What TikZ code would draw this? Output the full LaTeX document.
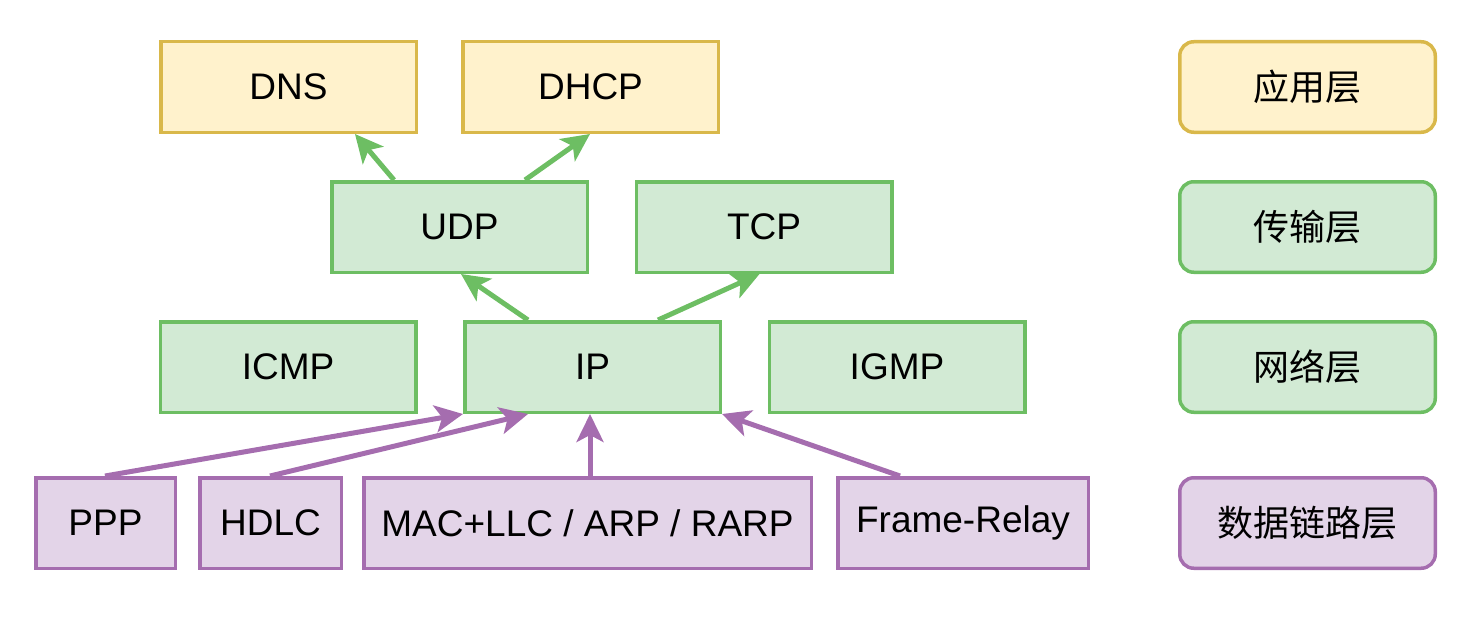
\documentclass[tikz,border=0pt]{standalone}
\usepackage{fontspec}
\setmainfont{Liberation Sans}
\newfontfamily\cjk{Noto Sans CJK SC}
\usetikzlibrary{arrows.meta,calc}
\definecolor{ylwF}{HTML}{FFF2CC}
\definecolor{ylwD}{HTML}{D9B84A}
\definecolor{grnF}{HTML}{D2EAD4}
\definecolor{grnD}{HTML}{6DBE63}
\definecolor{purF}{HTML}{E3D4E8}
\definecolor{purD}{HTML}{A56DAF}
\tikzset{
  x=1pt,y=1pt,
  box/.style={draw, line width=3.5pt, inner sep=0pt, minimum height=90.5pt, minimum width=255.5pt,
    font=\fontsize{37}{44}\selectfont},
  ylw/.style={box, fill=ylwF, draw=ylwD},
  grn/.style={box, fill=grnF, draw=grnD},
  pur/.style={box, fill=purF, draw=purD},
  lay/.style={rounded corners=14pt, font=\cjk\fontsize{36}{44}\selectfont},
  tipA/.style={-{Stealth[length=28pt,width=27pt,inset=7pt]}, line width=5pt},
  garr/.style={tipA, draw=grnD},
  parr/.style={tipA, draw=purD},
}
\begin{document}
\begin{tikzpicture}
\useasboundingbox (0,0) rectangle (1472,-618);
% application
\node[ylw] (dns) at (288.5,-87) {DNS};
\node[ylw] (dhcp) at (590.5,-87) {DHCP};
% transport
\node[grn] (udp) at (459.5,-227) {UDP};
\node[grn] (tcp) at (764,-227) {TCP};
% network
\node[grn] (icmp) at (288,-367) {ICMP};
\node[grn] (ip) at (592.5,-367) {IP};
\node[grn] (igmp) at (897,-367) {IGMP};
% data link
\node[pur, minimum width=139.5pt] (ppp) at (105.5,-523) {PPP};
\node[pur, minimum width=141.5pt] (hdlc) at (270.5,-523) {HDLC};
\node[pur, minimum width=447.5pt] (mac) at (587.5,-523) {MAC+LLC / ARP / RARP};
\node[pur, minimum width=250.5pt] (fr) at (963,-523) {Frame-Relay};
% layer labels
\node[ylw, lay] (l1) at (1307.5,-87) {应用层};
\node[grn, lay] (l2) at (1307.5,-227) {传输层};
\node[grn, lay] (l3) at (1307.5,-367) {网络层};
\node[pur, lay] (l4) at (1307.5,-523) {数据链路层};
% arrows
\draw[garr] ($(udp.north west)+(64,0)$) -- ($(dns.south west)+(196,0)$);
\draw[garr] ($(udp.north west)+(195,0)$) -- ($(dhcp.south west)+(129,0)$);
\draw[garr] ($(ip.north west)+(65,0)$) -- ($(udp.south west)+(131,0)$);
\draw[garr] ($(ip.north west)+(195,0)$) -- ($(tcp.south west)+(125,0)$);
\draw[parr] ($(ppp.north west)+(71,0)$) -- (ip.south west);
\draw[parr] ($(hdlc.north west)+(72,0)$) -- ($(ip.south west)+(65,0)$);
\draw[parr] ($(mac.north west)+(228,0)$) -- ($(ip.south west)+(127,0)$);
\draw[parr] ($(fr.north west)+(64,0)$) -- (ip.south east);
\end{tikzpicture}
\end{document}
